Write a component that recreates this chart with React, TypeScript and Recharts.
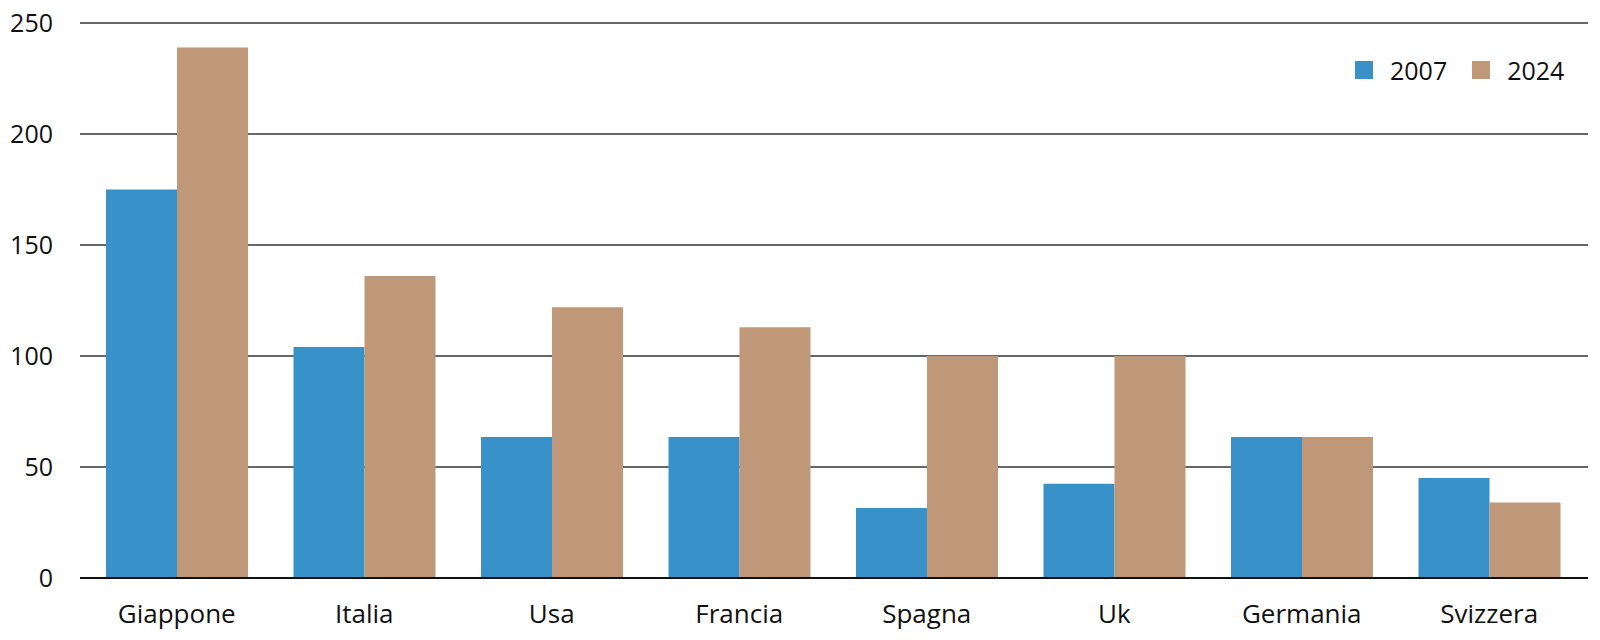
import React from 'react'
import { BarChart, Bar, XAxis, YAxis, CartesianGrid, Legend } from 'recharts'

// Countries on the x axis
const countries = ['Giappone', 'Italia', 'Usa', 'Francia', 'Spagna', 'Uk', 'Germania', 'Svizzera']

// Values
const values2007 = [175, 104, 63.5, 63.5, 31.5, 42.5, 63.5, 45]
const values2024 = [239, 136, 122, 113, 100, 100, 63.5, 34]

const yTicks = [0, 50, 100, 150, 200, 250]

const BLUE = '#3891c8'
const TAN = '#bf9879'
const FONT = '"Open Sans", "Noto Sans", sans-serif'

const chartData = countries.map((name, i) => ({
  name,
  y2007: values2007[i],
  y2024: values2024[i],
}))

const renderLegend = (props: any) => {
  const { payload } = props
  return (
    <div style={{ display: 'flex', alignItems: 'center', fontFamily: FONT, fontSize: 25, color: '#111' }}>
      {payload.map((entry: any, i: number) => (
        <div key={entry.value} style={{ display: 'flex', alignItems: 'center', marginLeft: i === 0 ? 0 : 25 }}>
          <span style={{ width: 18, height: 18, background: entry.color, display: 'inline-block' }} />
          <span style={{ marginLeft: 17, lineHeight: '30px' }}>{entry.value}</span>
        </div>
      ))}
    </div>
  )
}

export default function App() {
  return (
    <div style={{ position: 'absolute', left: 0, top: 0, width: 1600, height: 640, background: '#fff' }}>
      <BarChart
        width={1600}
        height={640}
        data={chartData}
        margin={{ top: 23, right: 12, left: 0, bottom: 0 }}
        barGap={0}
        barSize={71}
      >
        <CartesianGrid vertical={false} stroke="#333" strokeWidth={1.5} />
        <XAxis
          dataKey="name"
          height={62}
          tickLine={false}
          tickMargin={21}
          axisLine={{ stroke: '#111', strokeWidth: 1.8 }}
          padding={{ left: 3, right: 5 }}
          tick={{ fill: '#111', fontSize: 26, fontFamily: FONT }}
          interval={0}
        />
        <YAxis
          width={80}
          domain={[0, 250]}
          ticks={yTicks}
          axisLine={false}
          tickLine={false}
          tickMargin={21}
          tick={{ fill: '#111', fontSize: 25, fontFamily: FONT }}
        />
        {/* middle/center so the legend reserves no plot space */}
        <Legend
          verticalAlign="middle"
          align="center"
          content={renderLegend}
          wrapperStyle={{ top: 55, left: 1355, width: 240 }}
        />
        <Bar dataKey="y2007" name="2007" fill={BLUE} isAnimationActive={false} />
        <Bar dataKey="y2024" name="2024" fill={TAN} isAnimationActive={false} />
      </BarChart>
    </div>
  )
}
